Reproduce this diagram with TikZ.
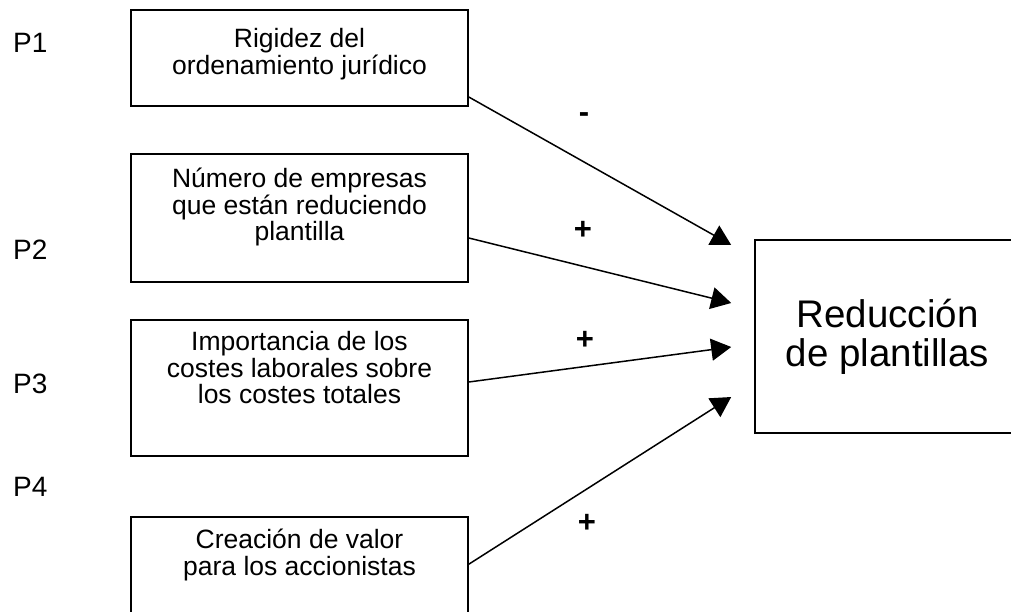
\documentclass[tikz,border=0pt]{standalone}
\usepackage{fontspec}
\setmainfont{Liberation Sans}
\usetikzlibrary{arrows.meta}
\tikzset{
  box/.style={draw, line width=1.6pt, rectangle, minimum width=337pt, inner sep=0pt},
  boxtext/.style={anchor=north, align=center, inner sep=0pt, font=\fontsize{26.5}{26.5}\selectfont},
  bigtext/.style={align=center, inner sep=0pt, font=\fontsize{38.5}{39}\selectfont},
  plabel/.style={anchor=west, inner sep=0pt, font=\fontsize{28}{28}\selectfont},
  sign/.style={inner sep=0pt, font=\fontsize{31}{31}\selectfont\bfseries},
  conn/.style={line width=1.5pt, -{Triangle[length=20pt,width=22pt]}},
}
\begin{document}
\begin{tikzpicture}[x=1pt,y=-1pt]
\useasboundingbox (0,0) rectangle (1011,612);
\clip (0,0) rectangle (1011,612);
% boxes
\node[box, minimum height=96pt] (b1) at (299.5,58) {};
\node[box, minimum height=128pt] (b2) at (299.5,218) {};
\node[box, minimum height=136pt] (b3) at (299.5,388) {};
\node[box, minimum height=130pt] (b4) at (299.5,582) {};
\node[box, minimum width=265pt, minimum height=193pt] (r) at (887.5,336.5) {};
% texts
\node[boxtext] (t1) at ([yshift=-19pt]b1.north) {Rigidez del\\ordenamiento jurídico};
\node[boxtext] (t2) at ([yshift=-15pt]b2.north) {Número de empresas\\que están reduciendo\\plantilla};
\node[boxtext] (t3) at ([yshift=-12pt]b3.north) {Importancia de los\\costes laborales sobre\\los costes totales};
\node[boxtext] (t4) at ([yshift=-13pt]b4.north) {Creación de valor\\para los accionistas};
\node[bigtext] (rt) at (r.center) {Reducción\\de plantillas};
% P labels
\node[plabel] (p1) at (13,43) {P1};
\node[plabel] (p2) at (13,250) {P2};
\node[plabel] (p3) at (13,384) {P3};
\node[plabel] (p4) at (13,487) {P4};
% arrow tips
\coordinate (e1) at ([xshift=-23pt,yshift=91.5pt]r.west);
\coordinate (e2) at ([xshift=-23pt,yshift=33.5pt]r.west);
\coordinate (e3) at ([xshift=-23pt,yshift=-10.5pt]r.west);
\coordinate (e4) at ([xshift=-23pt,yshift=-60.5pt]r.west);
\draw[conn] ([yshift=-39pt]b1.east) -- (e1);
\draw[conn] ([yshift=-20pt]b2.east) -- (e2);
\draw[conn] ([yshift=6pt]b3.east) -- (e3);
\draw[conn] ([yshift=-48pt]b4.north east) -- (e4);
% signs
\node[sign] (s1) at (584,118) {-};
\node[sign] (s2) at (583,230) {+};
\node[sign] (s3) at (585,340) {+};
\node[sign] (s4) at (587,523) {+};
\end{tikzpicture}
\end{document}
